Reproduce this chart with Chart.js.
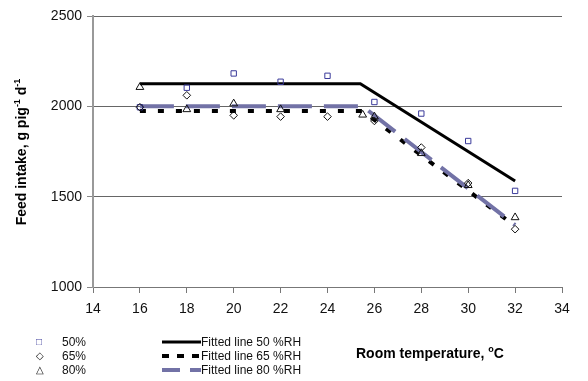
<!DOCTYPE html>
<html>
<head>
<meta charset="utf-8">
<script src="https://cdn.jsdelivr.net/npm/chart.js@4"></script>
<style>
  html, body { margin: 0; padding: 0; background: #fff; }
  #wrap { position: relative; width: 588px; height: 381px; font-family: "Liberation Sans", Arial, sans-serif; }
  #c { position: absolute; left: 0; top: 0; }
  .t { position: absolute; font-size: 12px; color: #111; white-space: nowrap; line-height: 14px; }
  .mk { position: absolute; font-size: 10px; color: #222; line-height: 10px; }
  #ytitle { position: absolute; left: -99px; top: 143px; width: 240px; height: 18px; line-height: 18px; text-align: center; transform: rotate(-90deg); font-weight: bold; font-size: 14px; white-space: nowrap; color: #000; }
  #xtitle { position: absolute; left: 356px; top: 345px; font-weight: bold; font-size: 14px; white-space: nowrap; color: #000; }
  sup { font-size: 9px; vertical-align: 6px; line-height: 0; }
</style>
</head>
<body>
<div id="wrap">
  <canvas id="c" width="588" height="381"></canvas>
  <div id="ytitle">Feed intake, g pig<sup>-1</sup> d<sup>-1</sup></div>
  <div id="xtitle">Room temperature, <sup>o</sup>C</div>
  <div id="legend"></div>
</div>
<script>
// ---- data ----
const rh50Temps = [16, 18, 20, 22, 24, 26, 28, 30, 32];
const rh50Intake = [1995, 2103, 2182, 2136, 2169, 2024, 1960, 1808, 1532];
const rh65Temps = [16, 18, 20, 22, 24, 26, 28, 30, 32];
const rh65Intake = [1995, 2061, 1950, 1943, 1943, 1919, 1772, 1575, 1320];
const rh80Temps = [16, 18, 20, 22, 25.5, 26, 28, 30, 32];
const rh80Intake = [2106, 1983, 2015, 1983, 1953, 1943, 1740, 1563, 1385];
const fit50Temps = [16, 25.4, 32];
const fit50Intake = [2125, 2125, 1587];
const fit65Temps = [16, 25.5, 32];
const fit65Intake = [1974, 1974, 1337];
const fit80Temps = [16, 25.5, 32];
const fit80Intake = [2000, 2000, 1343];
const xTicks = [14, 16, 18, 20, 22, 24, 26, 28, 30, 32, 34];
const yTicks = [1000, 1500, 2000, 2500];
const legendLabels = ['50%', '65%', '80%', 'Fitted line 50 %RH', 'Fitted line 65 %RH', 'Fitted line 80 %RH'];

const pts = (xs, ys) => xs.map((x, i) => ({ x: x, y: ys[i] }));

const fitColor80 = '#7272a6';

const ctx = document.getElementById('c').getContext('2d');
new Chart(ctx, {
  type: 'scatter',
  data: {
    datasets: [
      { label: legendLabels[3], data: pts(fit50Temps, fit50Intake), showLine: true, borderColor: '#000', borderWidth: 3, pointRadius: 0, order: 5 },
      { label: legendLabels[4], data: pts(fit65Temps, fit65Intake), showLine: true, borderColor: '#000', borderWidth: 4, borderDash: [6, 12], pointRadius: 0, order: 4 },
      { label: legendLabels[5], data: pts(fit80Temps, fit80Intake), showLine: true, borderColor: fitColor80, borderWidth: 4, borderDash: [34, 12], pointRadius: 0, order: 3 },
      { label: legendLabels[0], data: pts(rh50Temps, rh50Intake), pointStyle: 'rect', pointRadius: 3.8, borderColor: '#3a3a9a', backgroundColor: 'rgba(255,255,255,0)', borderWidth: 1, order: 2 },
      { label: legendLabels[1], data: pts(rh65Temps, rh65Intake), pointStyle: 'rectRot', pointRadius: 3.8, borderColor: '#111', backgroundColor: 'rgba(255,255,255,0)', borderWidth: 1, order: 1 },
      { label: legendLabels[2], data: pts(rh80Temps, rh80Intake), pointStyle: 'triangle', pointRadius: 4.5, borderColor: '#111', backgroundColor: 'rgba(255,255,255,0)', borderWidth: 1, order: 0 }
    ]
  },
  options: {
    responsive: false,
    animation: false,
    layout: { padding: { left: 33, right: 26, top: 16, bottom: 0 } },
    plugins: { legend: { display: false }, tooltip: { enabled: false } },
    scales: {
      x: {
        type: 'linear', min: 14, max: 34,
        afterBuildTicks: s => { s.ticks = xTicks.map(v => ({ value: v })); },
        afterFit: s => { s.height = 94; },
        grid: { drawOnChartArea: false, drawTicks: true, tickLength: 6, color: '#777', tickColor: '#777' },
        border: { color: '#777', width: 1 },
        ticks: { color: '#111', font: { family: 'Liberation Sans', size: 14 }, padding: 8, maxRotation: 0, callback: v => String(v) }
      },
      y: {
        min: 1000, max: 2500,
        afterBuildTicks: s => { s.ticks = yTicks.map(v => ({ value: v })); },
        afterFit: s => { s.width = 60; },
        grid: { color: '#666', tickColor: '#888', tickLength: 6, lineWidth: 1 },
        border: { color: '#999', width: 2 },
        ticks: { color: '#111', font: { family: 'Liberation Sans', size: 14 }, padding: 5, callback: v => String(v) }
      }
    }
  }
});

// ---- HTML legend ----
const leg = document.getElementById('legend');
const rowsY = [342, 356, 370];
const markers = ['\u25A1', '\u25C7', '\u25B3'];
const markerColors = ['#3a3a9a', '#111', '#111'];
for (let i = 0; i < 3; i++) {
  const m = document.createElement('div');
  m.className = 'mk';
  m.textContent = markers[i];
  m.style.left = '36px';
  m.style.top = (rowsY[i] - 5) + 'px';
  m.style.color = markerColors[i];
  leg.appendChild(m);
  const t = document.createElement('div');
  t.className = 't';
  t.textContent = legendLabels[i];
  t.style.left = '62px';
  t.style.top = (rowsY[i] - 7) + 'px';
  leg.appendChild(t);
}
const lineStyles = [
  { w: 3, c: '#000', dash: null },
  { w: 4, c: '#000', dash: [7, 8] },
  { w: 4, c: fitColor80, dash: [18, 10] }
];
for (let i = 0; i < 3; i++) {
  const cv = document.createElement('canvas');
  cv.width = 40; cv.height = 8;
  cv.style.position = 'absolute';
  cv.style.left = '161px';
  cv.style.top = (rowsY[i] - 4) + 'px';
  const g = cv.getContext('2d');
  const s = lineStyles[i];
  g.strokeStyle = s.c; g.lineWidth = s.w;
  if (s.dash) g.setLineDash(s.dash);
  g.beginPath(); g.moveTo(1, 4); g.lineTo(40, 4); g.stroke();
  leg.appendChild(cv);
  const t = document.createElement('div');
  t.className = 't';
  t.textContent = legendLabels[3 + i];
  t.style.left = '201px';
  t.style.top = (rowsY[i] - 7) + 'px';
  leg.appendChild(t);
}
</script>
</body>
</html>
